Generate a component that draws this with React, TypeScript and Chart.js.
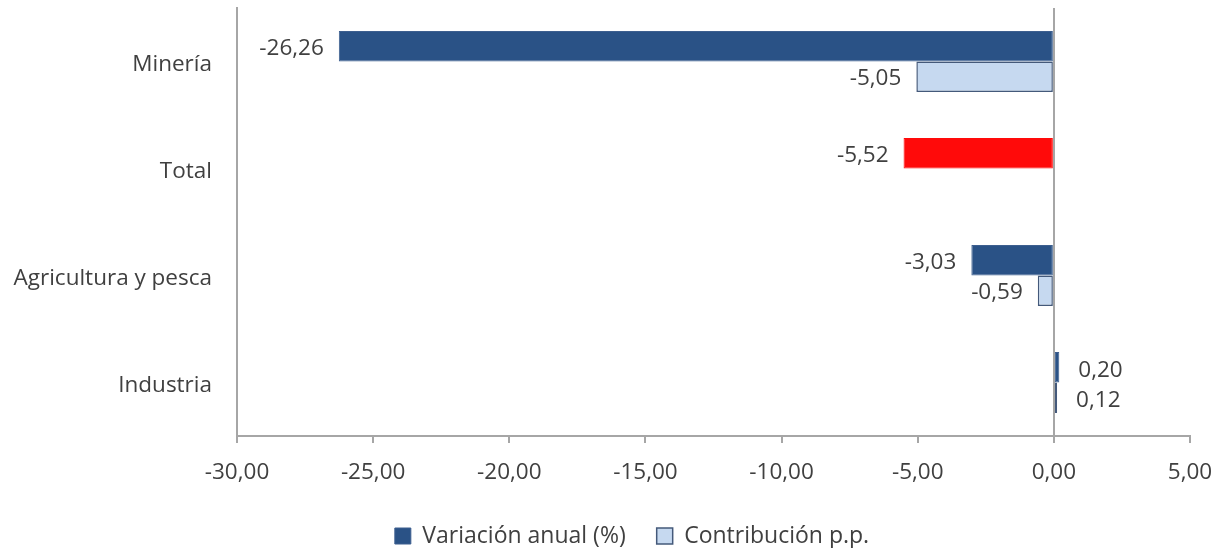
import React, { useEffect, useRef } from "react";
import { Chart, registerables } from "chart.js";

Chart.register(...registerables);

const categories = ["Minería", "Total", "Agricultura y pesca", "Industria"];
const variacionAnual = [-26.26, -5.52, -3.03, 0.2];
const contribucion: (number | null)[] = [-5.05, null, -0.59, 0.12];
const xTicks = [-30, -25, -20, -15, -10, -5, 0, 5];
const seriesNames = ["Variación anual (%)", "Contribución p.p."];

const DARK = "#2a5286";
const LIGHT = "#c6d9f0";
const RED = "#ff0a0a";
const TEXT = "#404040";
const AXIS = "#a6a6a6";
const FONT = "'Open Sans', 'Noto Sans', sans-serif";
const FS = 22.5;
const LEG_FS = 23;
const LEG_PAD = 31;

const fmt = (v: number) => v.toFixed(2).replace(".", ",");

const valueLabels = {
  id: "valueLabels",
  afterDatasetsDraw(chart: any) {
    const ctx = chart.ctx;
    ctx.save();
    ctx.font = `${FS}px ${FONT}`;
    ctx.fillStyle = TEXT;
    ctx.textBaseline = "middle";
    chart.data.datasets.forEach((ds: any, di: number) => {
      const meta = chart.getDatasetMeta(di);
      meta.data.forEach((el: any, i: number) => {
        const v = ds.data[i];
        if (v === null || v === undefined) return;
        if (v < 0) {
          ctx.textAlign = "right";
          ctx.fillText(fmt(v), el.x - 15, el.y + 2);
        } else {
          ctx.textAlign = "left";
          ctx.fillText(fmt(v), el.x + 19, el.y + 3);
        }
      });
    });
    ctx.restore();
  },
};

const legendShift = {
  id: "legendShift",
  afterLayout(chart: any) {
    const lg = chart.legend;
    if (lg) {
      lg.top += 9.5;
      lg.bottom += 9.5;
      lg.left += 37;
      lg.right += 37;
    }
  },
};

export default function App() {
  const ref = useRef<HTMLCanvasElement | null>(null);
  useEffect(() => {
    document.body.style.margin = "0";
    const canvas = ref.current;
    if (!canvas) return;
    const chart = new Chart(canvas, {
      type: "bar",
      data: {
        labels: categories,
        datasets: [
          {
            label: seriesNames[0],
            data: variacionAnual,
            backgroundColor: categories.map((c) => (c === "Total" ? RED : DARK)),
            borderColor: categories.map((c) => (c === "Total" ? RED : "#3d5f8f")),
            borderWidth: 1,
            borderSkipped: false,
          },
          {
            label: seriesNames[1],
            data: contribucion,
            backgroundColor: LIGHT,
            borderColor: "#44597a",
            borderWidth: 1.5,
            borderSkipped: false,
          },
        ],
      },
      options: {
        indexAxis: "y",
        responsive: true,
        maintainAspectRatio: false,
        animation: false,
        layout: { padding: { top: 8, right: 30, bottom: 0, left: 0 } },
        datasets: {
          bar: { categoryPercentage: 0.57, barPercentage: 1.0 },
        },
        scales: {
          x: {
            min: -30,
            max: 5,
            afterBuildTicks: (scale: any) => {
              scale.ticks = xTicks.map((v) => ({ value: v }));
            },
            afterFit: (scale: any) => {
              scale.height = 548 - 436 - (LEG_FS + LEG_PAD + 10);
              scale.paddingLeft = 0;
              scale.paddingRight = 0;
            },
            ticks: {
              color: TEXT,
              font: { family: FONT, size: FS },
              padding: 16,
              callback: (v: any) => fmt(Number(v)),
              maxRotation: 0,
            },
            grid: {
              drawOnChartArea: true,
              color: (c: any) => (c.tick && c.tick.value === 0 ? AXIS : "rgba(0,0,0,0)"),
              lineWidth: 2,
              tickColor: AXIS,
              tickLength: 7,
              tickWidth: 2,
            },
            border: { display: true, color: AXIS, width: 2 },
          },
          y: {
            afterFit: (scale: any) => {
              scale.width = 237;
              scale.paddingTop = 0;
              scale.paddingBottom = 0;
            },
            ticks: {
              color: TEXT,
              font: { family: FONT, size: FS },
              padding: 25,
              labelOffset: 3,
            },
            grid: { display: false, drawTicks: false },
            border: { display: true, color: AXIS, width: 2 },
          },
        },
        plugins: {
          legend: {
            position: "bottom",
            labels: {
              color: TEXT,
              font: { family: FONT, size: LEG_FS },
              boxWidth: 16,
              boxHeight: 16,
              padding: LEG_PAD,
            },
          },
          tooltip: { enabled: false },
        },
      },
      plugins: [valueLabels, legendShift],
    } as any);
    return () => chart.destroy();
  }, []);
  return (
    <div style={{ position: "relative", width: "1220px", height: "548px" }}>
      <canvas ref={ref} />
    </div>
  );
}
